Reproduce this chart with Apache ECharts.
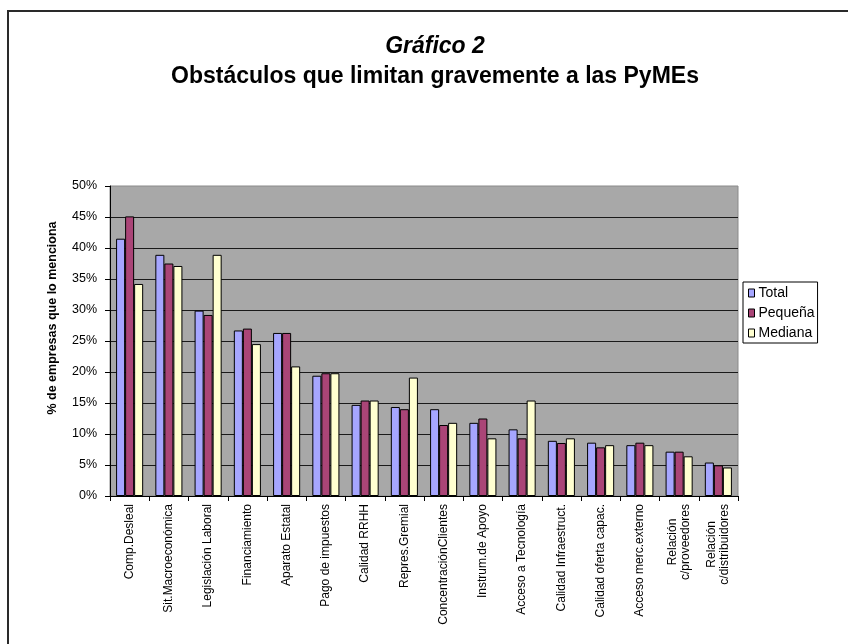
<!DOCTYPE html>
<html>
<head>
<meta charset="utf-8">
<script src="https://cdn.jsdelivr.net/npm/echarts@6/dist/echarts.min.js"></script>
<style>
  html, body { margin: 0; padding: 0; background: #fff; }
  #chart { width: 848px; height: 644px; }
</style>
</head>
<body>
<div id="chart"></div>
<script>
// Obstacles limiting SMEs: share of firms mentioning each one (%)
const categories = [
  'Comp.Desleal', 'Sit.Macroeconómica', 'Legislación Laboral', 'Financiamiento',
  'Aparato Estatal', 'Pago de impuestos', 'Calidad RRHH', 'Repres.Gremial',
  'ConcentraciónClientes', 'Instrum.de Apoyo', 'Acceso a Tecnología',
  'Calidad Infraestruct.', 'Calidad oferta capac.', 'Acceso merc.externo',
  'Relación\nc/proveedores', 'Relación\nc/distribuidores'
];
const totalValues   = [41.5, 38.9, 29.9, 26.7, 26.3, 19.4, 14.7, 14.35, 14.0, 11.8, 10.75, 8.9, 8.6, 8.2, 7.15, 5.4];
const pequenaValues = [45.1, 37.5, 29.2, 27.0, 26.3, 19.8, 15.4, 14.0, 11.45, 12.5, 9.3, 8.55, 7.85, 8.6, 7.15, 4.95];
const medianaValues = [34.2, 37.1, 38.9, 24.5, 20.9, 19.8, 15.4, 19.1, 11.8, 9.3, 15.4, 9.3, 8.2, 8.2, 6.4, 4.6];
const seriesNames = ['Total', 'Pequeña', 'Mediana'];
const yTicks = { min: 0, max: 50, step: 5 };

const FONT = '"Liberation Sans", Arial, sans-serif';
const colors = ['#A6A6FF', '#AA4577', '#FFFFD0'];

const chart = echarts.init(document.getElementById('chart'), null, { renderer: 'canvas' });

const barSeries = [totalValues, pequenaValues, medianaValues].map((vals, i) => ({
  name: seriesNames[i],
  type: 'bar',
  data: vals,
  barGap: '0%',
  barCategoryGap: '31%',
  itemStyle: { color: colors[i], borderColor: '#000', borderWidth: 1 },
  emphasis: { disabled: true },
  animation: false
}));

chart.setOption({
  animation: false,
  backgroundColor: '#fff',
  title: [
    {
      text: 'Gráfico 2',
      left: 430, top: 30, textAlign: 'center',
      textStyle: { fontFamily: FONT, fontSize: 23, fontWeight: 'bold', fontStyle: 'italic', color: '#000' }
    },
    {
      text: 'Obstáculos que limitan gravemente a las PyMEs',
      left: 430, top: 60, textAlign: 'center',
      textStyle: { fontFamily: FONT, fontSize: 23, fontWeight: 'bold', color: '#000' }
    }
  ],
  legend: {
    orient: 'vertical',
    left: 743, top: 282,
    data: seriesNames,
    icon: 'rect',
    itemWidth: 6, itemHeight: 8,
    itemGap: 6,
    padding: [4, 3, 3, 5],
    borderColor: '#000', borderWidth: 1,
    backgroundColor: '#fff',
    itemStyle: { borderColor: '#000', borderWidth: 1 },
    textStyle: { fontFamily: FONT, fontSize: 14, color: '#000', lineHeight: 14, padding: [0, 0, 0, -1] },
    selectedMode: false
  },
  grid: {
    left: 110, right: 110, top: 186, bottom: 148,
    show: true, backgroundColor: '#A8A8A8', borderColor: '#8A8A8A', borderWidth: 1,
    containLabel: false
  },
  xAxis: {
    type: 'category',
    data: categories,
    axisLine: { show: true, lineStyle: { color: '#000', width: 1 } },
    axisTick: { show: true, alignWithLabel: false, length: 5, lineStyle: { color: '#000' } },
    axisLabel: {
      rotate: 90, interval: 0, margin: 8,
      fontFamily: FONT, fontSize: 12, color: '#000',
      formatter: v => v.split('\n').map(s => '{c|' + s + '}').join('\n'),
      rich: { c: { align: 'center', fontFamily: FONT, fontSize: 12, color: '#000', lineHeight: 13 } }
    },
    splitLine: { show: false }
  },
  yAxis: {
    type: 'value',
    min: yTicks.min, max: yTicks.max, interval: yTicks.step,
    axisLine: { show: true, lineStyle: { color: '#000', width: 1 } },
    axisTick: { show: true, length: 5, lineStyle: { color: '#000' } },
    axisLabel: { margin: 13, fontFamily: FONT, fontSize: 12.5, color: '#000', formatter: '{value}%' },
    splitLine: { show: true, showMinLine: false, showMaxLine: false, lineStyle: { color: '#1a1a1a', width: 1 } }
  },
  series: barSeries,
  graphic: [
    {
      type: 'rect', silent: true, z: 100,
      shape: { x: 8, y: 11, width: 900, height: 700 },
      style: { fill: 'none', stroke: '#2a2a2a', lineWidth: 2 }
    },
    {
      type: 'text', silent: true,
      x: 53, y: 318, rotation: Math.PI / 2,
      style: {
        text: '% de empresas que lo menciona',
        fontFamily: FONT, fontSize: 12.5, fontWeight: 'bold', fill: '#000',
        align: 'center', verticalAlign: 'middle'
      }
    }
  ]
});
</script>
</body>
</html>
